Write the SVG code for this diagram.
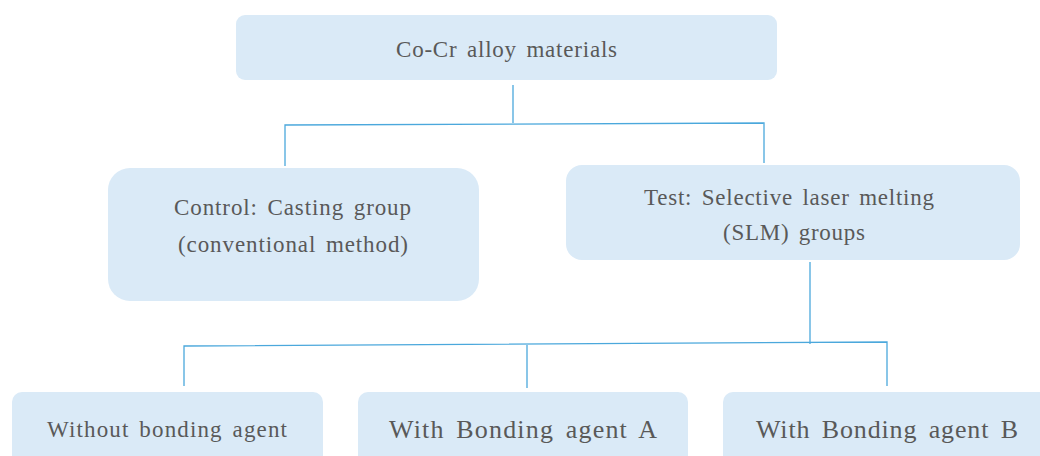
<svg xmlns="http://www.w3.org/2000/svg" width="1040" height="456" viewBox="0 0 1040 456">
<style>
.box{fill:#DAEAF7;}
.t{font-family:"Liberation Serif","DejaVu Serif",serif;fill:#595959;font-size:23px;word-spacing:3px;}
.tb{font-size:26px;word-spacing:4px;}
.c{fill:none;stroke:#4BA8DC;stroke-width:1.3;}
</style>
<rect width="1040" height="456" fill="#ffffff"/>
<g id="connectors">
<path class="c" d="M513 85 V123"/>
<path class="c" d="M285 166 V125 L764 123 V163"/>
<path class="c" d="M810 262 V344"/>
<path class="c" d="M184 386 V346 L887 342 V386"/>
<path class="c" d="M527 345 V388"/>
</g>
<g id="n-root">
<rect class="box" x="236" y="15" width="541" height="65" rx="9"/>
<text class="t" x="396" y="57" textLength="221" lengthAdjust="spacing">Co-Cr alloy materials</text>
</g>
<g id="n-control">
<rect class="box" x="108" y="168" width="371" height="133" rx="22"/>
<text class="t" x="174" y="215" textLength="237" lengthAdjust="spacing">Control: Casting group</text>
<text class="t" x="178" y="252" textLength="230" lengthAdjust="spacing">(conventional method)</text>
</g>
<g id="n-test">
<rect class="box" x="566" y="165" width="454" height="95" rx="16"/>
<text class="t" x="644" y="205" textLength="290" lengthAdjust="spacing">Test: Selective laser melting</text>
<text class="t" x="723" y="240" textLength="142" lengthAdjust="spacing">(SLM) groups</text>
</g>
<g id="n-without">
<rect class="box" x="12" y="392" width="311" height="80" rx="10"/>
<text class="t" x="47" y="437" textLength="240" lengthAdjust="spacing">Without bonding agent</text>
</g>
<g id="n-agentA">
<rect class="box" x="358" y="392" width="330" height="80" rx="10"/>
<text class="t tb" x="389" y="438" textLength="268" lengthAdjust="spacing">With Bonding agent A</text>
</g>
<g id="n-agentB">
<rect class="box" x="723" y="392" width="340" height="80" rx="10"/>
<text class="t tb" x="756" y="438" textLength="262" lengthAdjust="spacing">With Bonding agent B</text>
</g>
</svg>
